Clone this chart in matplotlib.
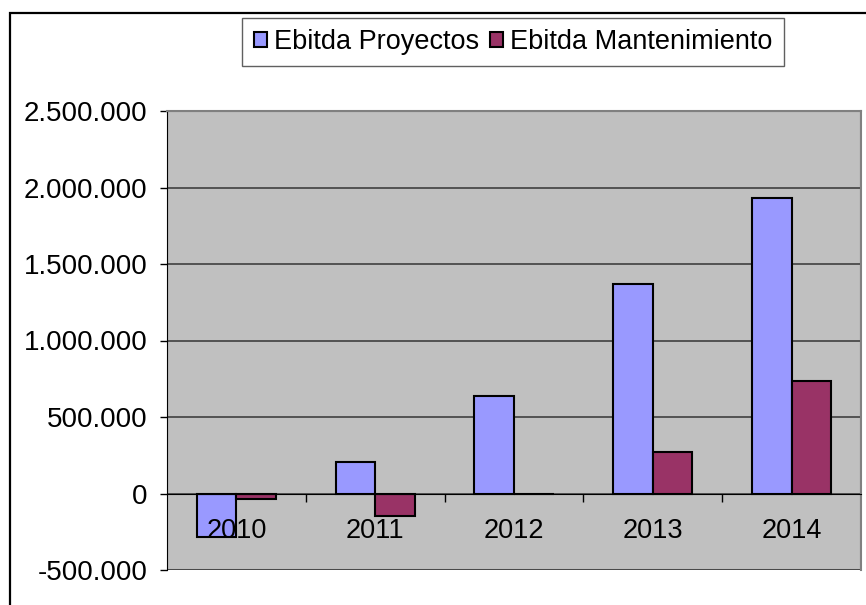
import numpy as np
import matplotlib.pyplot as plt
from matplotlib.patches import Rectangle
from matplotlib.ticker import FuncFormatter

plt.rcParams['font.family'] = ['Liberation Sans', 'DejaVu Sans']

years = ['2010', '2011', '2012', '2013', '2014']
proyectos = [-287000, 203000, 636000, 1368000, 1930000]
mantenimiento = [-39000, -150000, 0, 270000, 738000]

fig = plt.figure(figsize=(8.66, 6.05), dpi=100)
ax = fig.add_axes([167/866, 1-570/605, 694/866, 459/605])
ax.set_facecolor('#C0C0C0')

x = np.arange(len(years))
w = 1/3.5
ax.bar(x - w/2, proyectos, w, color='#9999FF', edgecolor='black', linewidth=1.5,
       label='Ebitda Proyectos', zorder=3)
ax.bar(x + w/2, mantenimiento, w, color='#993366', edgecolor='black', linewidth=1.5,
       label='Ebitda Mantenimiento', zorder=3)

ax.set_xlim(-0.5, len(years) - 0.5)
ax.set_ylim(-500000, 2500000)
ax.set_yticks(np.arange(-500000, 2500001, 500000))
ax.yaxis.set_major_formatter(FuncFormatter(lambda v, p: f'{int(v):,}'.replace(',', '.')))
ax.yaxis.grid(True, color='#404040', linewidth=1.2)
ax.set_axisbelow(True)
ax.xaxis.set_zorder(5)  # year labels drawn over the bars

# x axis crossing at zero
ax.spines['bottom'].set_position(('data', 0))
ax.spines['bottom'].set_color('black')
ax.spines['bottom'].set_zorder(4)
ax.set_xticks(x)
ax.set_xticklabels(years)
ax.set_xticks(np.arange(0.5, len(years) - 1, 1), minor=True)
ax.tick_params(axis='x', which='major', length=0, pad=18, labelsize=19.5)
ax.tick_params(axis='x', which='minor', length=6, width=1, direction='out')
ax.tick_params(axis='y', length=5, width=1, labelsize=20, pad=9)

for s in ['top', 'right']:
    ax.spines[s].set_color('#808080')
    ax.spines[s].set_linewidth(1.5)
ax.spines['left'].set_color('black')

# bottom border of the plot area
ax.add_patch(Rectangle((0, 0), 1, 1, transform=ax.transAxes, fill=False,
                       edgecolor='#808080', linewidth=1.5, zorder=0.5))

fig.legend(loc='center', bbox_to_anchor=(513/866, 1-42/605), ncol=2, fontsize=19.5,
           frameon=True, fancybox=False, edgecolor='#606060', framealpha=1,
           handlelength=0.5, handleheight=0.5, handletextpad=0.25,
           columnspacing=0.4, borderpad=0.42)

# outer chart frame
fig.add_artist(Rectangle((10/866, -0.2), 1.2, 1-13/605+0.2, transform=fig.transFigure,
                         fill=False, edgecolor='black', linewidth=1.6))

plt.savefig('out.png', dpi=100)
